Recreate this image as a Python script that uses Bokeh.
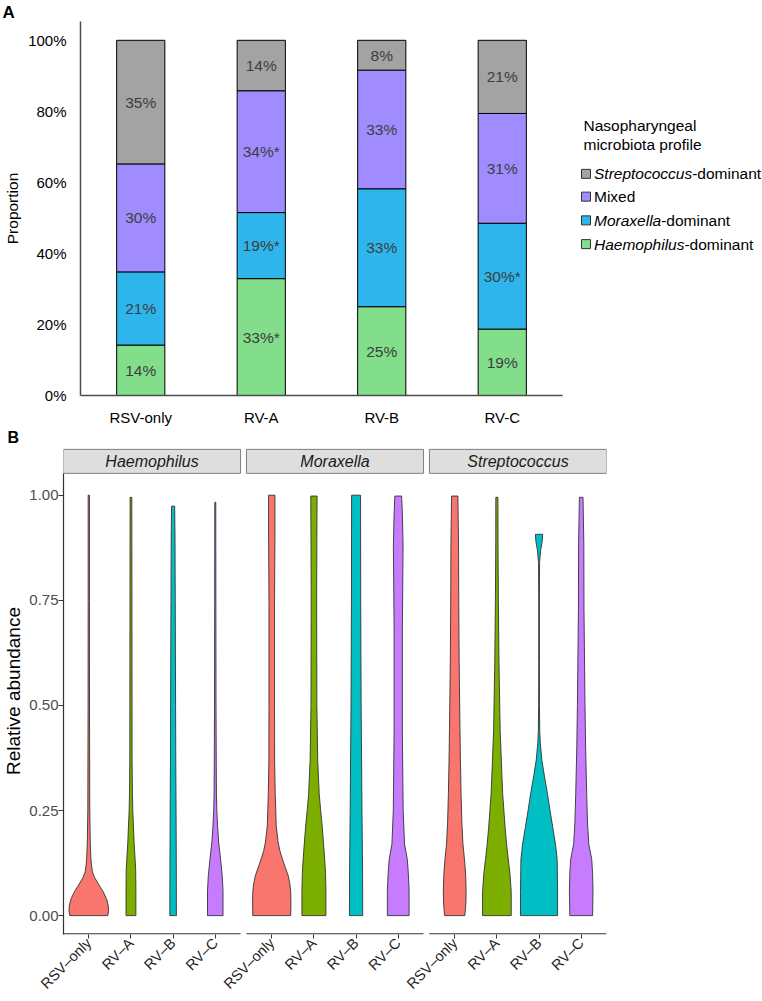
import numpy as np
from bokeh.plotting import figure
from bokeh.models import FixedTicker, NumeralTickFormatter, ColumnDataSource, Range1d
from bokeh.core.properties import value
from bokeh.embed import file_html
from bokeh.resources import INLINE

FONT = "Liberation Sans"

# ---------------- Panel A data ----------------
groups = ["RSV-only", "RV-A", "RV-B", "RV-C"]
haemophilus_pct = [14.2, 32.9, 25.0, 18.7]
moraxella_pct = [20.6, 18.6, 33.2, 29.8]
mixed_pct = [30.4, 34.3, 33.4, 30.9]
streptococcus_pct = [34.8, 14.2, 8.4, 20.6]
haemophilus_sig = ["", "*", "", ""]
moraxella_sig = ["", "*", "", "*"]
mixed_sig = ["", "*", "", ""]
streptococcus_sig = ["", "", "", ""]
y_ticks_a = [0, 0.2, 0.4, 0.6, 0.8, 1.0]
legend_genus = ["Streptococcus", "", "Moraxella", "Haemophilus"]
legend_suffix = ["-dominant", "Mixed", "-dominant", "-dominant"]
colors_a = {"H": "#82DE8A", "M": "#2EB6EC", "X": "#A08CFE", "S": "#A3A3A3"}

# ---------------- Panel B data (violin profiles: value, half-width in category units) ----------------
genera = ["Haemophilus", "Moraxella", "Streptococcus"]
groups_b = ["RSV\u2013only", "RV\u2013A", "RV\u2013B", "RV\u2013C"]
violin_colors = ["#F8766D", "#7CAE00", "#00BFC4", "#C77CFF"]
y_ticks_b = [0, 0.25, 0.5, 0.75, 1.0]

haem_rsv_y = [0, 0.012, 0.025, 0.04, 0.057, 0.07, 0.08, 0.09, 0.104, 0.12, 0.135, 0.175, 0.25, 0.5, 0.75, 1.0]
haem_rsv_w = [0.45, 0.47, 0.46, 0.42, 0.34, 0.26, 0.2, 0.14, 0.086, 0.065, 0.05, 0.035, 0.023, 0.017, 0.015, 0.015]
haem_rva_y = [0, 0.06, 0.11, 0.135, 0.175, 0.213, 0.25, 0.29, 0.37, 0.5, 0.75, 0.995]
haem_rva_w = [0.117, 0.117, 0.112, 0.098, 0.074, 0.059, 0.043, 0.035, 0.027, 0.026, 0.023, 0.02]
haem_rvb_y = [0, 0.1, 0.25, 0.37, 0.5, 0.75, 0.9, 0.974]
haem_rvb_w = [0.078, 0.076, 0.07, 0.063, 0.059, 0.051, 0.045, 0.037]
haem_rvc_y = [0, 0.06, 0.095, 0.135, 0.175, 0.213, 0.25, 0.29, 0.37, 0.5, 0.75, 0.983]
haem_rvc_w = [0.184, 0.184, 0.165, 0.125, 0.08, 0.055, 0.037, 0.028, 0.023, 0.018, 0.014, 0.012]

mora_rsv_y = [0, 0.03, 0.057, 0.075, 0.095, 0.115, 0.135, 0.155, 0.175, 0.213, 0.29, 0.37, 0.5, 0.75, 0.9, 1.0]
mora_rsv_w = [0.45, 0.455, 0.45, 0.43, 0.39, 0.32, 0.25, 0.19, 0.15, 0.106, 0.082, 0.068, 0.066, 0.066, 0.075, 0.075]
mora_rva_y = [0, 0.06, 0.1, 0.135, 0.175, 0.213, 0.25, 0.29, 0.37, 0.5, 0.75, 0.9, 0.998]
mora_rva_w = [0.285, 0.285, 0.275, 0.255, 0.225, 0.196, 0.16, 0.125, 0.09, 0.07, 0.065, 0.07, 0.075]
mora_rvb_y = [0, 0.1, 0.25, 0.5, 0.75, 1.0]
mora_rvb_w = [0.157, 0.155, 0.14, 0.12, 0.11, 0.106]
mora_rvc_y = [0, 0.06, 0.1, 0.134, 0.17, 0.25, 0.44, 0.68, 0.88, 0.95, 0.998]
mora_rvc_w = [0.258, 0.258, 0.24, 0.215, 0.15, 0.117, 0.098, 0.098, 0.115, 0.1, 0.08]

strep_rsv_y = [0, 0.03, 0.057, 0.095, 0.13, 0.17, 0.22, 0.29, 0.37, 0.44, 0.6, 0.75, 0.885, 0.998]
strep_rsv_w = [0.24, 0.265, 0.27, 0.26, 0.235, 0.195, 0.17, 0.15, 0.135, 0.125, 0.105, 0.095, 0.09, 0.075]
strep_rva_y = [0, 0.057, 0.1, 0.134, 0.17, 0.21, 0.29, 0.37, 0.44, 0.6, 0.75, 0.885, 0.995]
strep_rva_w = [0.34, 0.34, 0.31, 0.27, 0.23, 0.195, 0.137, 0.105, 0.078, 0.05, 0.035, 0.027, 0.025]
strep_rvb_y = [0, 0.057, 0.134, 0.17, 0.21, 0.25, 0.29, 0.33, 0.37, 0.41, 0.44, 0.5, 0.6, 0.75, 0.84, 0.87, 0.89, 0.907]
strep_rvb_w = [0.44, 0.44, 0.43, 0.39, 0.325, 0.26, 0.2, 0.13, 0.067, 0.03, 0.016, 0.01, 0.008, 0.008, 0.012, 0.04, 0.075, 0.086]
strep_rvc_y = [0, 0.057, 0.1, 0.134, 0.17, 0.22, 0.29, 0.4, 0.5, 0.73, 0.885, 0.995]
strep_rvc_w = [0.27, 0.28, 0.27, 0.25, 0.18, 0.15, 0.13, 0.105, 0.09, 0.066, 0.062, 0.043]

violins = {
    "Haemophilus": [(haem_rsv_y, haem_rsv_w), (haem_rva_y, haem_rva_w), (haem_rvb_y, haem_rvb_w), (haem_rvc_y, haem_rvc_w)],
    "Moraxella": [(mora_rsv_y, mora_rsv_w), (mora_rva_y, mora_rva_w), (mora_rvb_y, mora_rvb_w), (mora_rvc_y, mora_rvc_w)],
    "Streptococcus": [(strep_rsv_y, strep_rsv_w), (strep_rva_y, strep_rva_w), (strep_rvb_y, strep_rvb_w), (strep_rvc_y, strep_rvc_w)],
}

# Arial-compatible advance widths (em) for measuring italic legend words
ARIAL_W = {"S": .667, "t": .278, "r": .333, "e": .556, "p": .556, "o": .556, "c": .5, "u": .556, "s": .5,
           "M": .833, "a": .556, "x": .5, "l": .222, "H": .722, "m": .833, "h": .556, "i": .222}
def text_width(s, size):
    return sum(ARIAL_W.get(ch, .556) for ch in s) * size

W = 762

# ======================= Panel A =======================
HA = 428
A_LEFT, A_TOP, A_BOTTOM = 80, 20, 30
A_PX_X, A_PX_Y = 120.5, 359.0
frame_w_a = W - A_LEFT
frame_h_a = HA - A_TOP - A_BOTTOM
xa0 = 0.5
xa1 = xa0 + frame_w_a / A_PX_X
ya1 = frame_h_a / A_PX_Y
FRAME_A_BOTTOM = HA - A_BOTTOM

def ax(px):
    return xa0 + (px - A_LEFT) / A_PX_X

def ay(py):
    return (FRAME_A_BOTTOM - py) / A_PX_Y

p1 = figure(width=W, height=HA, x_range=Range1d(xa0, xa1), y_range=Range1d(0, ya1),
            output_backend="svg", toolbar_location=None,
            min_border_left=A_LEFT, min_border_right=0, min_border_top=A_TOP, min_border_bottom=A_BOTTOM)
p1.outline_line_color = None
p1.xgrid.grid_line_color = None
p1.ygrid.grid_line_color = None
p1.title.text = "A"
p1.title.align = "left"
p1.title.offset = -(A_LEFT - 2)
p1.title.standoff = 0
p1.title.text_font = FONT
p1.title.text_font_size = "17px"
p1.title.text_font_style = "bold"
p1.title.text_color = "black"

xpos = [i + 1 for i in range(len(groups))]
src = ColumnDataSource(dict(
    x=xpos,
    H=[v / 100 for v in haemophilus_pct],
    M=[v / 100 for v in moraxella_pct],
    X=[v / 100 for v in mixed_pct],
    S=[v / 100 for v in streptococcus_pct],
))
p1.vbar_stack(["H", "M", "X", "S"], x="x", width=0.4, source=src,
              fill_color=[colors_a[k] for k in ["H", "M", "X", "S"]],
              line_color="black", line_width=1)

lab_x, lab_y, lab_t = [], [], []
for i in range(len(groups)):
    base = 0.0
    for vals, sig in [(haemophilus_pct, haemophilus_sig), (moraxella_pct, moraxella_sig),
                      (mixed_pct, mixed_sig), (streptococcus_pct, streptococcus_sig)]:
        v = vals[i] / 100
        lab_x.append(xpos[i])
        lab_y.append(base + v / 2)
        lab_t.append(f"{round(vals[i])}%{sig[i]}")
        base += v
p1.text(x=lab_x, y=lab_y, text=lab_t, text_align="center", text_baseline="middle",
        text_font=value(FONT), text_font_size="15.5px", text_color="#3D3D3D")

xa = p1.xaxis[0]
xa.ticker = FixedTicker(ticks=xpos)
xa.major_label_overrides = {x: g for x, g in zip(xpos, groups)}
xa.bounds = (0.5, 4.5)
xa.axis_line_color = "#4D4D4D"
xa.axis_line_width = 1.5
xa.major_tick_line_color = None
xa.minor_tick_line_color = None
xa.major_tick_out = 0
xa.major_tick_in = 0
xa.major_label_standoff = 13
xa.major_label_text_font = FONT
xa.major_label_text_font_size = "15px"
xa.major_label_text_color = "black"

ya = p1.yaxis[0]
ya.ticker = FixedTicker(ticks=y_ticks_a)
ya.formatter = NumeralTickFormatter(format="0%")
ya.bounds = (0, ya1)
ya.axis_line_color = "#4D4D4D"
ya.axis_line_width = 1.5
ya.major_tick_line_color = None
ya.minor_tick_line_color = None
ya.major_tick_out = 0
ya.major_tick_in = 0
ya.major_label_standoff = 14
ya.major_label_text_font = FONT
ya.major_label_text_font_size = "15px"
ya.major_label_text_color = "black"
ya.axis_label = "Proportion"
ya.axis_label_standoff = 4
ya.axis_label_text_font = FONT
ya.axis_label_text_font_size = "15.5px"
ya.axis_label_text_font_style = "normal"
ya.axis_label_text_color = "black"

# legend (manual, to allow italic genus names)
LEG_FS = 15.5
p1.text(x=[ax(583), ax(583)], y=[ay(125), ay(144)], text=["Nasopharyngeal", "microbiota profile"],
        text_align="left", text_baseline="middle", text_font=value(FONT),
        text_font_size=f"{LEG_FS}px", text_color="black")
leg_cols = [colors_a["S"], colors_a["X"], colors_a["M"], colors_a["H"]]
leg_abs_y = [174, 197, 221, 245]
p1.scatter(x=[ax(585.5)] * 4, y=[ay(v) for v in leg_abs_y], marker="square", size=9,
           fill_color=leg_cols, line_color="#333333", line_width=1)
for g, suf, yy in zip(legend_genus, legend_suffix, leg_abs_y):
    x0 = 593.5
    if g:
        p1.text(x=[ax(x0)], y=[ay(yy)], text=[g], text_align="left", text_baseline="middle",
                text_font=value(FONT), text_font_size=f"{LEG_FS}px", text_font_style="italic",
                text_color="black")
        x0 += text_width(g, LEG_FS)
    p1.text(x=[ax(x0)], y=[ay(yy)], text=[suf], text_align="left", text_baseline="middle",
            text_font=value(FONT), text_font_size=f"{LEG_FS}px", text_color="black")

# ======================= Panel B =======================
HB = 572
B_LEFT, B_TOP, B_BOTTOM = 58, 18, 64
B_FRAME_W = 548
B_RIGHT = W - B_LEFT - B_FRAME_W
FRAME_B_TOP = HA + B_TOP              # absolute page y of frame top
FRAME_B_BOTTOM = HA + HB - B_BOTTOM   # absolute page y of frame bottom
B_PX_Y = 423.0
ZERO_ABS = 917
yb1 = (ZERO_ABS - FRAME_B_TOP) / B_PX_Y
yb0 = -(FRAME_B_BOTTOM - ZERO_ABS) / B_PX_Y
panel_top = 1.052
strip_top = 1.109

panel_step = 4.34
xb0 = 0.4
xb1 = 0.4 + 2 * panel_step + 4.2
B_PX_X = B_FRAME_W / (xb1 - xb0)

p2 = figure(width=W, height=HB, x_range=Range1d(xb0, xb1), y_range=Range1d(yb0, yb1),
            output_backend="svg", toolbar_location=None,
            min_border_left=B_LEFT, min_border_right=B_RIGHT, min_border_top=B_TOP, min_border_bottom=B_BOTTOM)
p2.outline_line_color = None
p2.xgrid.grid_line_color = None
p2.ygrid.grid_line_color = None
p2.title.text = "B"
p2.title.align = "left"
p2.title.offset = -(B_LEFT - 2)
p2.title.standoff = 0
p2.title.vertical_align = "top"
p2.title.text_font = FONT
p2.title.text_font_size = "16px"
p2.title.text_font_style = "bold"
p2.title.text_color = "black"

tick_pos, tick_lab = [], []
xs_all, ys_all, fills = [], [], []
for k, genus in enumerate(genera):
    for i, (vy, vw) in enumerate(violins[genus]):
        c = round(1 + i + k * panel_step, 4)
        tick_pos.append(c)
        tick_lab.append(groups_b[i])
        xs_all.append([c + w for w in vw] + [c - w for w in reversed(vw)])
        ys_all.append(list(vy) + list(reversed(vy)))
        fills.append(violin_colors[i])
p2.patches(xs_all, ys_all, fill_color=fills, line_color="#333333", line_width=0.9)

panel_left = [0.4 + k * panel_step for k in range(len(genera))]
panel_right = [4.6 + k * panel_step for k in range(len(genera))]
# facet strips
p2.quad(left=panel_left, right=panel_right, bottom=[panel_top] * 3, top=[strip_top] * 3,
        fill_color="#DEDEDE", line_color="#7F7F7F", line_width=1)
p2.text(x=[(l + r) / 2 for l, r in zip(panel_left, panel_right)], y=[(panel_top + strip_top) / 2] * 3,
        text=genera, text_align="center", text_baseline="middle", text_font=value(FONT),
        text_font_size="16px", text_font_style="italic", text_color="#1A1A1A")
# per-panel x axis lines
y_line = yb0 + 0.7 / B_PX_Y
p2.segment(x0=panel_left, y0=[y_line] * 3, x1=panel_right, y1=[y_line] * 3,
           line_color="#333333", line_width=1.2)

xb = p2.xaxis[0]
xb.ticker = FixedTicker(ticks=tick_pos)
xb.major_label_overrides = {t: l for t, l in zip(tick_pos, tick_lab)}
xb.axis_line_color = None
xb.major_tick_line_color = "#333333"
xb.minor_tick_line_color = None
xb.major_tick_out = 4
xb.major_tick_in = 0
xb.major_label_standoff = 2
xb.major_label_orientation = np.pi / 4
xb.major_label_text_font = FONT
xb.major_label_text_font_size = "14.5px"
xb.major_label_text_color = "#1F1F1F"

yb = p2.yaxis[0]
yb.ticker = FixedTicker(ticks=y_ticks_b)
yb.formatter = NumeralTickFormatter(format="0.00")
yb.bounds = (yb0, panel_top)
yb.axis_line_color = "#333333"
yb.axis_line_width = 1.2
yb.major_tick_line_color = "#333333"
yb.minor_tick_line_color = None
yb.major_tick_out = 5
yb.major_tick_in = 0
yb.major_label_standoff = 0
yb.major_label_text_font = FONT
yb.major_label_text_font_size = "15px"
yb.major_label_text_color = "#4D4D4D"
yb.axis_label = "Relative abundance"
yb.axis_label_standoff = 2
yb.axis_label_text_font = FONT
yb.axis_label_text_font_size = "19px"
yb.axis_label_text_font_style = "normal"
yb.axis_label_text_color = "black"

open("out.html", "w").write(file_html([p1, p2], INLINE))
